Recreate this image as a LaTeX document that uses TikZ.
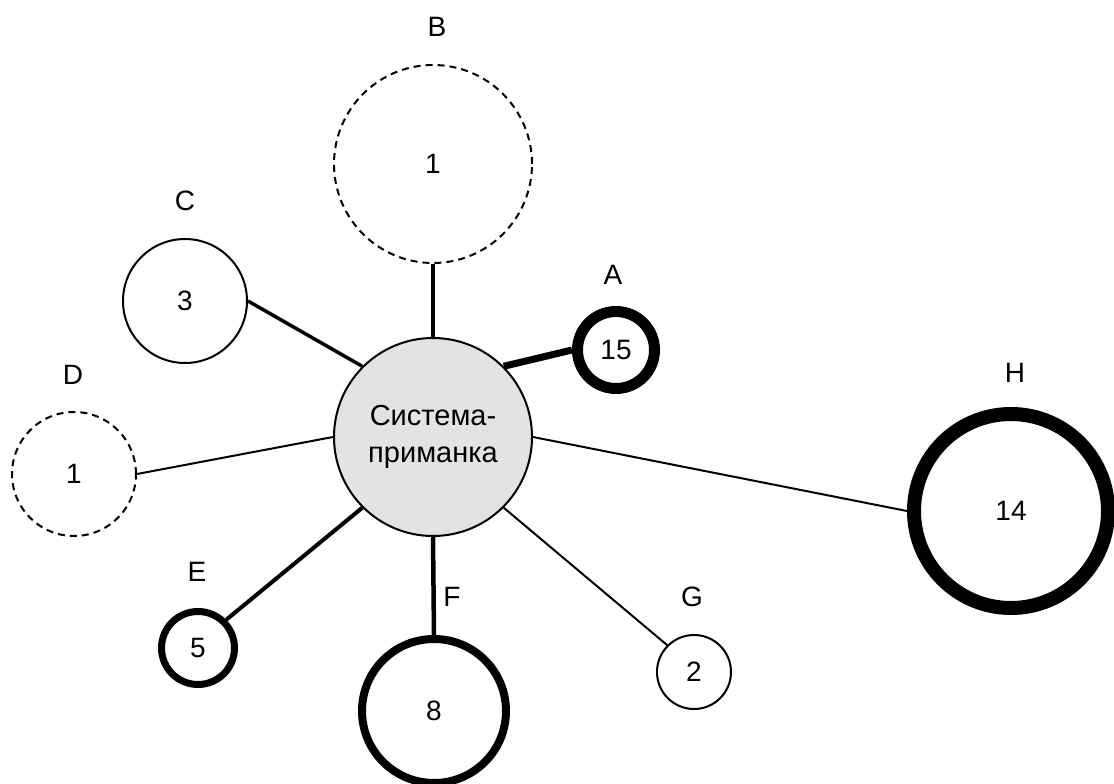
\documentclass[tikz,border=0pt]{standalone}
\usepackage{fontspec}
\setmainfont{Liberation Sans}
\begin{document}
\begin{tikzpicture}[x=1pt,y=-1pt,
  txt/.style={font=\fontsize{28}{32}\selectfont, inner sep=0pt},
  ring/.style={circle, draw=black, fill=white, inner sep=0pt, font=\fontsize{28}{32}\selectfont},
  dashring/.style={ring, dash pattern=on 7pt off 5pt, line width=2pt},
  conn/.style={draw=black}
]
\useasboundingbox (0,0) rectangle (1114,784);
\fill[white] (0,0) rectangle (1114,784);

% central node
\node[circle, draw=black, fill=black!11, line width=2pt, minimum size=198pt, inner sep=0pt, align=center,
      font=\fontsize{29}{37}\selectfont] (sys) at (433,437) {Система-\\приманка};

% satellites
\node[dashring, minimum size=198pt] (B) at (433,164) {1};
\node[ring, line width=2pt, minimum size=124pt] (C) at (185,301) {3};
\node[ring, line width=11pt, minimum size=77pt] (A) at (616,350) {15};
\node[dashring, minimum size=124pt] (D) at (74,474) {1};
\node[ring, line width=7pt, minimum size=73pt] (E) at (198,648) {5};
\node[ring, line width=8pt, minimum size=144pt] (F) at (434,711) {8};
\node[ring, line width=2pt, minimum size=74pt] (G) at (694,672) {2};
\node[ring, line width=14pt, minimum size=194pt] (H) at (1011,511) {14};

% labels
\node[txt] (lB) at (437,27) {B};
\node[txt] (lC) at (185,201) {C};
\node[txt] (lA) at (613,275) {A};
\node[txt] (lD) at (73,375) {D};
\node[txt] (lE) at (197,572) {E};
\node[txt] (lF) at (452,597) {F};
\node[txt] (lG) at (692,597) {G};
\node[txt] (lH) at (1015,373) {H};

% connectors
\draw[conn, line width=3.5pt] (sys.north) -- (B.south);
\draw[conn, line width=3.5pt] (sys.135) -- (C.east);
\draw[conn, line width=7pt] (sys.45) -- (A.west);
\draw[conn, line width=2pt] (sys.west) -- (D.east);
\draw[conn, line width=2pt] (sys.east) -- (H.west);
\draw[conn, line width=4pt] (sys.225) -- (E.45);
\draw[conn, line width=4.5pt] (sys.south) -- (F.north);
\draw[conn, line width=2pt] (sys.315) -- (G.135);
\end{tikzpicture}
\end{document}
